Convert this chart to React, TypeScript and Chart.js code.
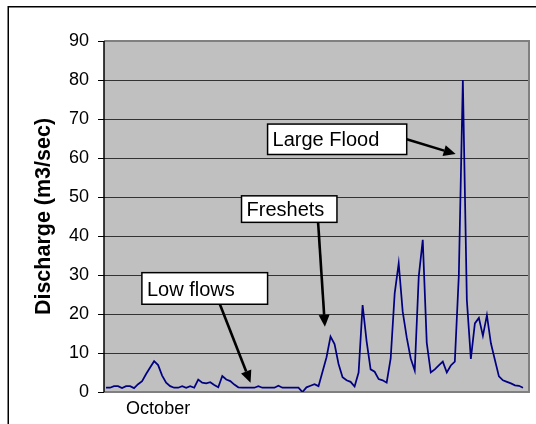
import { useEffect, useRef } from 'react';
import { Chart, registerables } from 'chart.js';

Chart.register(...registerables);

// Daily discharge (m3/sec), starting in October
const discharge: number[] = [
  1.1, 1.1, 1.5, 1.5, 1.0, 1.5, 1.5, 1.0, 2.0, 2.8,
  4.6, 6.3, 7.9, 6.9, 4.2, 2.4, 1.5, 1.1, 1.1, 1.5,
  1.1, 1.5, 1.1, 3.2, 2.4, 2.2, 2.5, 1.8, 1.2, 4.1,
  3.2, 2.8, 1.9, 1.2, 1.1, 1.1, 1.1, 1.1, 1.5, 1.1,
  1.1, 1.1, 1.1, 1.6, 1.1, 1.1, 1.1, 1.1, 1.1, 0.0,
  1.2, 1.6, 2.0, 1.5, 5.2, 8.9, 14.2, 12.3, 7.2, 3.8,
  3.0, 2.6, 1.4, 5.0, 22.3, 13.0, 5.8, 5.2, 3.3, 3.0,
  2.4, 8.6, 25.3, 33.0, 20.6, 14.0, 8.6, 5.5, 29.6, 39.0,
  12.6, 5.0, 5.8, 6.8, 7.8, 5.0, 6.8, 7.8, 30.0, 80.0,
  23.6, 8.5, 17.6, 19.0, 14.4, 19.7, 12.5, 8.2, 4.0, 3.0,
  2.6, 2.2, 1.7, 1.6, 1.1,
];
const dayCount = 106;
const monthLabel = 'October';
const monthLabelIndex = 13;
const yMin = 0;
const yMax = 90;
const yStep = 10;
const yTitle = 'Discharge (m3/sec)';

// Callouts: box corners and arrow ends in data units (day index, discharge)
const calloutTexts = ['Low flows', 'Freshets', 'Large Flood'];
const calloutBoxes = [
  [8.95, 30.6, 40.3, 22.5],
  [33.8, 50.3, 57.6, 43.5],
  [40.3, 68.7, 75.0, 60.9],
];
const calloutArrows = [
  [28.4, 22.5, 36.05, 2.4],
  [52.9, 43.5, 54.6, 16.7],
  [75.0, 64.8, 87.2, 61.0],
];

const FONT = '"Liberation Sans", Arial, sans-serif';

const decorPlugin = {
  id: 'decor',
  beforeDraw(chart: any) {
    const { ctx, chartArea: a } = chart;
    ctx.save();
    ctx.fillStyle = '#ffffff';
    ctx.fillRect(0, 0, chart.width, chart.height);
    ctx.strokeStyle = '#000000';
    ctx.lineWidth = 1.5;
    ctx.strokeRect(8.25, 6.75, 700, 700);
    ctx.fillStyle = '#C0C0C0';
    ctx.fillRect(a.left, a.top, a.right - a.left, a.bottom - a.top);
    ctx.restore();
  },
  beforeDatasetsDraw(chart: any) {
    const { ctx, chartArea: a } = chart;
    ctx.save();
    ctx.strokeStyle = '#808080';
    ctx.lineWidth = 2;
    ctx.beginPath();
    ctx.moveTo(a.left, a.top);
    ctx.lineTo(a.right, a.top);
    ctx.lineTo(a.right, a.bottom);
    ctx.lineTo(a.left, a.bottom);
    ctx.stroke();
    ctx.strokeStyle = '#000000';
    ctx.lineWidth = 1.5;
    ctx.beginPath();
    ctx.moveTo(a.left, a.top);
    ctx.lineTo(a.left, a.bottom);
    ctx.stroke();
    ctx.restore();
  },
  afterDraw(chart: any) {
    const { ctx } = chart;
    const xs = chart.scales.x;
    const ys = chart.scales.y;
    ctx.save();
    calloutTexts.forEach((text, i) => {
      const [bx1, by1, bx2, by2] = calloutBoxes[i];
      const x1 = xs.getPixelForValue(bx1);
      const x2 = xs.getPixelForValue(bx2);
      const y1 = ys.getPixelForValue(by1);
      const y2 = ys.getPixelForValue(by2);
      // arrow
      const [ax1, ay1, ax2, ay2] = calloutArrows[i];
      const px1 = xs.getPixelForValue(ax1);
      const py1 = ys.getPixelForValue(ay1);
      const px2 = xs.getPixelForValue(ax2);
      const py2 = ys.getPixelForValue(ay2);
      const ang = Math.atan2(py2 - py1, px2 - px1);
      const headLen = 12;
      const headHalf = 5.5;
      const bxp = px2 - headLen * Math.cos(ang);
      const byp = py2 - headLen * Math.sin(ang);
      ctx.strokeStyle = '#000';
      ctx.lineWidth = 2.6;
      ctx.beginPath();
      ctx.moveTo(px1, py1);
      ctx.lineTo(bxp, byp);
      ctx.stroke();
      ctx.fillStyle = '#000';
      ctx.beginPath();
      ctx.moveTo(px2, py2);
      ctx.lineTo(bxp + headHalf * Math.sin(ang), byp - headHalf * Math.cos(ang));
      ctx.lineTo(bxp - headHalf * Math.sin(ang), byp + headHalf * Math.cos(ang));
      ctx.closePath();
      ctx.fill();
      // box
      ctx.fillStyle = '#ffffff';
      ctx.fillRect(x1, y1, x2 - x1, y2 - y1);
      ctx.strokeStyle = '#000';
      ctx.lineWidth = 1.5;
      ctx.strokeRect(x1, y1, x2 - x1, y2 - y1);
      ctx.fillStyle = '#000';
      ctx.font = `20px ${FONT}`;
      ctx.textAlign = 'left';
      ctx.textBaseline = 'alphabetic';
      ctx.fillText(text, x1 + 5, (y1 + y2) / 2 + 7.2);
    });
    ctx.restore();
  },
};

export default function App() {
  const canvasRef = useRef<HTMLCanvasElement | null>(null);

  useEffect(() => {
    const canvas = canvasRef.current;
    if (!canvas) return;
    const labels = Array.from({ length: dayCount }, (_, i) => String(i + 1));
    const chart = new Chart(canvas, {
      type: 'line',
      data: {
        labels,
        datasets: [
          {
            data: discharge,
            borderColor: '#000080',
            borderWidth: 1.75,
            pointRadius: 0,
            tension: 0,
            fill: false,
          },
        ],
      },
      options: {
        responsive: false,
        maintainAspectRatio: false,
        devicePixelRatio: 1,
        animation: false,
        layout: { padding: { left: 0, top: 41, right: 7, bottom: 0 } },
        plugins: { legend: { display: false }, tooltip: { enabled: false } },
        scales: {
          x: {
            type: 'category',
            offset: true,
            grid: { display: false, drawTicks: false },
            border: { display: false },
            ticks: {
              autoSkip: false,
              maxRotation: 0,
              minRotation: 0,
              padding: 6,
              color: '#000',
              font: { family: FONT, size: 18 },
              callback: (_v: any, i: number) => (i === monthLabelIndex ? monthLabel : ''),
            },
            afterFit: (s: any) => {
              s.height = 32;
            },
          },
          y: {
            min: yMin,
            max: yMax,
            ticks: {
              stepSize: yStep,
              padding: 9,
              color: '#000',
              font: { family: FONT, size: 18 },
            },
            grid: {
              color: (c: any) =>
                c.tick && (c.tick.value === yMin || c.tick.value === yMax) ? 'rgba(0,0,0,0)' : '#333333',
              lineWidth: 1,
              drawTicks: true,
              tickLength: 6,
              tickColor: '#000',
            },
            border: { display: false },
            title: {
              display: true,
              text: yTitle,
              color: '#000',
              font: { family: FONT, size: 21.5, weight: 'bold' },
              padding: { top: 31, bottom: 0 },
            },
            afterFit: (s: any) => {
              s.width = 104;
            },
          },
        },
      },
      plugins: [decorPlugin],
    });
    return () => chart.destroy();
  }, []);

  return (
    <div style={{ position: 'fixed', left: 0, top: 0, width: 536, height: 424, background: '#fff' }}>
      <canvas ref={canvasRef} width={536} height={424} style={{ display: 'block' }} />
    </div>
  );
}
